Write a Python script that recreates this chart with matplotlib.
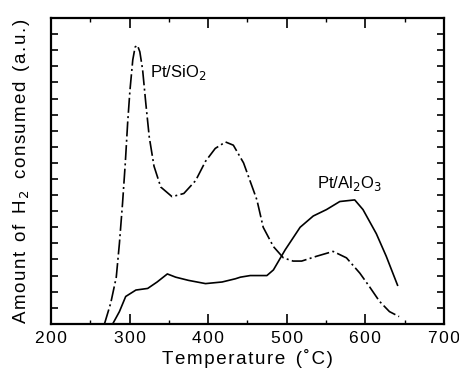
import matplotlib.pyplot as plt
from matplotlib.ticker import MultipleLocator, FixedFormatter

# Pt/SiO2 (traço-ponto)
t_sio2 = [268, 276, 283, 287, 291, 294.5, 297.5, 300.4, 304, 307, 310, 313, 316.5,
          320.6, 325, 331, 339.6, 354, 369, 384, 396.6, 409, 422, 432, 445, 462,
          470, 483, 495.7, 508, 519, 538, 559, 576, 593, 605.4, 618, 630.7, 643]
y_sio2 = [0.0, 1.3, 2.9, 5.0, 7.5, 10.0, 12.5, 14.5, 16.4, 17.2, 17.3, 16.9, 15.8,
          13.7, 11.6, 9.8, 8.5, 7.9, 8.1, 8.9, 10.1, 10.9, 11.3, 11.1, 10.0, 7.7,
          6.0, 4.8, 4.1, 3.9, 3.9, 4.2, 4.5, 4.1, 3.15, 2.3, 1.4, 0.76, 0.45]

# Pt/Al2O3 (linha cheia)
t_al = [278.5, 287, 295, 308, 323, 335, 348, 358.6, 375, 396.6, 417.7, 434.6, 441,
        453.5, 474.7, 483, 498, 517, 533.7, 550.6, 567.5, 586.5, 597, 614, 626.6,
        635, 641]
y_al = [0.0, 0.76, 1.7, 2.1, 2.2, 2.6, 3.1, 2.9, 2.7, 2.5, 2.6, 2.8, 2.9,
        3.0, 3.0, 3.35, 4.6, 6.0, 6.7, 7.1, 7.6, 7.7, 7.1, 5.6, 4.2,
        3.15, 2.4]

x_ticks = [200, 300, 400, 500, 600, 700]

HS = '\u200a'  # espaço fino entre letras


def espacar(texto):
    # imita o espaçamento largo das letras do original
    return HS.join(texto)


plt.rcParams['font.family'] = ['Liberation Sans', 'DejaVu Sans']

fig = plt.figure(figsize=(4.6, 3.68), dpi=100)
ax = fig.add_axes([0.111, 0.12, 0.854, 0.831])

ax.plot(t_sio2, y_sio2, color='black', lw=1.2, linestyle=(0, (9, 2, 1.2, 2)),
        solid_joinstyle='round', dash_joinstyle='round')
ax.plot(t_al, y_al, color='black', lw=1.2, solid_joinstyle='round')

ax.text(326, 15.6, 'Pt/SiO$_2$', fontsize=12, va='center')
ax.text(538, 8.75, 'Pt/Al$_2$O$_3$', fontsize=12, va='center')

ax.set_xlim(200, 700)
ax.set_ylim(0, 19)
ax.set_xticks(x_ticks)
ax.xaxis.set_major_formatter(FixedFormatter([espacar(str(t)) for t in x_ticks]))
ax.xaxis.set_minor_locator(MultipleLocator(50))
ax.yaxis.set_major_locator(MultipleLocator(1))
ax.set_yticklabels([])

ax.tick_params(axis='x', which='major', direction='in', length=7, width=1.2,
               top=True, labelsize=12.5, pad=5)
ax.tick_params(axis='x', which='minor', direction='in', length=3, width=1, top=True)
ax.tick_params(axis='y', which='major', direction='in', length=5, width=1.2,
               right=True)
for s in ax.spines.values():
    s.set_linewidth(1.6)

ax.set_xlabel(espacar('Temperature') + '  ' + espacar('(˚C)'), fontsize=13.5,
              labelpad=2)
ax.set_ylabel(espacar('Amount') + '  ' + espacar('of') + '  H' + HS + '$_2$  '
              + espacar('consumed') + '  ' + espacar('(a.u.)'),
              fontsize=13.5, labelpad=10)

fig.savefig('out.png', dpi=100)
